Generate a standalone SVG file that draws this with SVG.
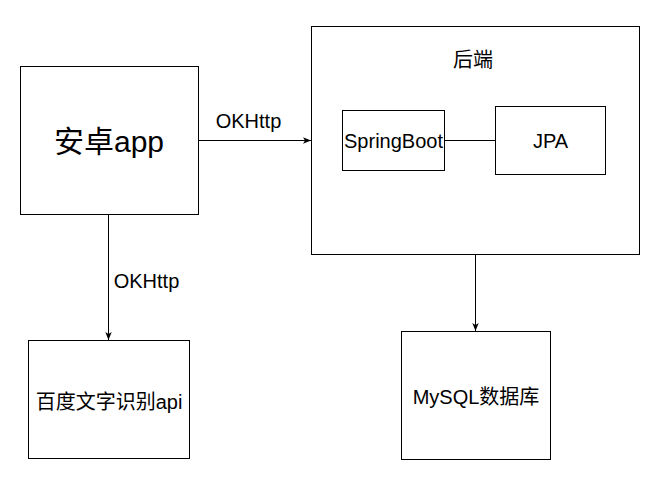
<svg xmlns="http://www.w3.org/2000/svg" width="658" height="491" viewBox="0 0 658 491">
<style>
.box{fill:#fff;stroke:#000;stroke-width:1}
.t{font-family:"Liberation Sans","Noto Sans CJK SC",sans-serif;font-size:20px;fill:#000;text-anchor:middle;dominant-baseline:central}
.big{font-size:30px}
.edge{fill:none;stroke:#000;stroke-width:1}
</style>
<defs>
<marker id="arr" viewBox="0 0 10 10" refX="10" refY="5" markerWidth="8" markerHeight="8" markerUnits="userSpaceOnUse" orient="auto">
<path d="M0,1 L10,5 L0,9 L2.5,5 Z" fill="#000"/>
</marker>
</defs>
<g id="backend">
<rect class="box" x="311.5" y="26.5" width="328" height="228"/>
<text class="t" x="473" y="60">后端</text>
</g>
<g id="android">
<rect class="box" x="20.5" y="66.5" width="178" height="148"/>
<text class="t big" x="109" y="141">安卓app</text>
</g>
<g id="springboot">
<rect class="box" x="342.5" y="110.5" width="102" height="60"/>
<text class="t" x="393.5" y="141">SpringBoot</text>
</g>
<g id="jpa">
<rect class="box" x="495.5" y="106.5" width="110" height="68"/>
<text class="t" x="550.5" y="141">JPA</text>
</g>
<g id="baidu">
<rect class="box" x="28.5" y="340.5" width="161" height="118"/>
<text class="t" x="109" y="402">百度文字识别api</text>
</g>
<g id="mysql">
<rect class="box" x="401.5" y="331.5" width="149" height="128"/>
<text class="t" x="476" y="397">MySQL数据库</text>
</g>
<g id="connectors">
<path class="edge" d="M198.5,140.5 L311,140.5" marker-end="url(#arr)"/>
<text class="t" x="248.5" y="121">OKHttp</text>
<path class="edge" d="M108.5,214.5 L108.5,340" marker-end="url(#arr)"/>
<text class="t" x="146.5" y="281">OKHttp</text>
<path class="edge" d="M444.5,140.5 L495.5,140.5"/>
<path class="edge" d="M475.5,254.5 L475.5,331" marker-end="url(#arr)"/>
</g>
</svg>
